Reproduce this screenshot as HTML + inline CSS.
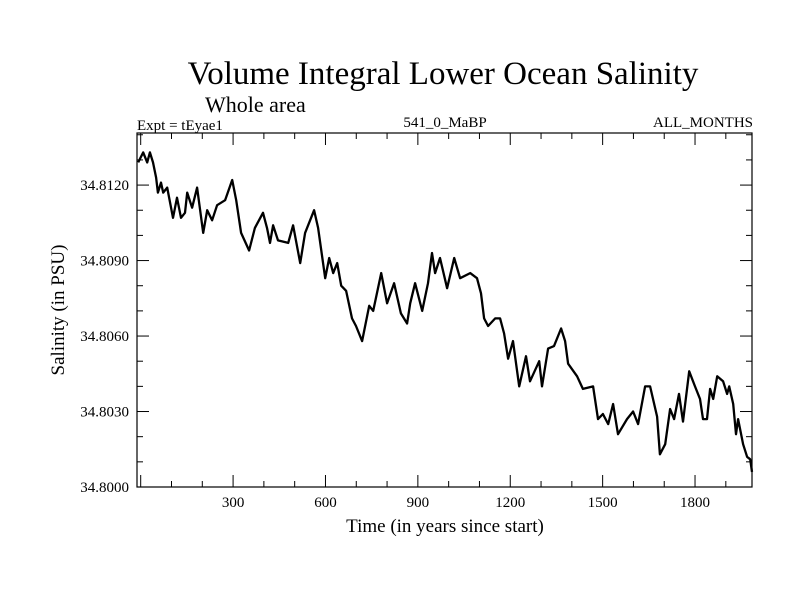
<!DOCTYPE html>
<html><head><meta charset="utf-8"><style>
body{margin:0;background:#fff}
svg text{font-family:"Liberation Serif",serif;fill:#000}
</style></head><body>
<svg width="800" height="600">
<text x="443" y="84" font-size="33" text-anchor="middle">Volume Integral Lower Ocean Salinity</text>
<text x="205" y="112" font-size="22">Whole area</text>
<text x="137" y="130" font-size="15">Expt = tEyae1</text>
<text x="445" y="127" font-size="15" text-anchor="middle">541_0_MaBP</text>
<text x="753" y="127" font-size="15" text-anchor="end">ALL_MONTHS</text>
<text x="445" y="532" font-size="19" text-anchor="middle">Time (in years since start)</text>
<text transform="translate(64,310) rotate(-90)" font-size="19" text-anchor="middle">Salinity (in PSU)</text>
<g id="ticks"></g>
<path id="line" fill="none" stroke="#000" stroke-width="2.3" stroke-linejoin="round"/>
<rect x="137" y="133" width="615" height="354" fill="none" stroke="#000" stroke-width="1.2"/>
</svg>
<script>
const years=[-8,8,21,30,40,50,56,66,73,86,105,118,131,144,151,167,183,203,216,232,248,274,297,310,326,352,371,397,410,420,430,446,479,495,518,534,563,576,599,612,625,638,651,667,686,699,719,742,755,781,800,823,845,865,875,891,914,933,946,956,972,995,1018,1037,1070,1092,1105,1115,1128,1151,1167,1180,1193,1209,1229,1251,1264,1294,1303,1323,1342,1365,1378,1388,1417,1436,1469,1485,1501,1518,1534,1550,1579,1599,1615,1638,1654,1677,1686,1703,1719,1732,1748,1761,1781,1800,1816,1826,1839,1849,1859,1872,1891,1904,1911,1924,1933,1940,1956,1969,1979,1985];
const salinity=[34.8129,34.8133,34.8129,34.8133,34.8129,34.8123,34.8117,34.8121,34.8117,34.8119,34.8107,34.8115,34.8107,34.8109,34.8117,34.8111,34.8119,34.8101,34.8110,34.8106,34.8112,34.8114,34.8122,34.8114,34.8101,34.8094,34.8103,34.8109,34.8103,34.8097,34.8104,34.8098,34.8097,34.8104,34.8089,34.8101,34.8110,34.8103,34.8083,34.8091,34.8085,34.8089,34.8080,34.8078,34.8067,34.8064,34.8058,34.8072,34.8070,34.8085,34.8073,34.8081,34.8069,34.8065,34.8073,34.8081,34.8070,34.8081,34.8093,34.8085,34.8091,34.8079,34.8091,34.8083,34.8085,34.8083,34.8077,34.8067,34.8064,34.8067,34.8067,34.8061,34.8051,34.8058,34.8040,34.8052,34.8042,34.8050,34.8040,34.8055,34.8056,34.8063,34.8058,34.8049,34.8044,34.8039,34.8040,34.8027,34.8029,34.8025,34.8033,34.8021,34.8027,34.8030,34.8025,34.8040,34.8040,34.8028,34.8013,34.8017,34.8031,34.8027,34.8037,34.8026,34.8046,34.8040,34.8035,34.8027,34.8027,34.8039,34.8035,34.8044,34.8042,34.8037,34.8040,34.8033,34.8021,34.8027,34.8017,34.8012,34.8011,34.8006];
const xTickLabels=["300","600","900","1200","1500","1800"];
const yTickLabels=["34.8000","34.8030","34.8060","34.8090","34.8120"];
const X0=137,X1=752,Y0=487,Y1=133,XMIN=-12,XMAX=1985,YMIN=34.8,YMAX=34.81407;
const sx=v=>X0+(v-XMIN)/(XMAX-XMIN)*(X1-X0);
const sy=v=>Y0-(v-YMIN)/(YMAX-YMIN)*(Y0-Y1);
const NS="http://www.w3.org/2000/svg";
const g=document.getElementById('ticks');
function ln(x1,y1,x2,y2){const l=document.createElementNS(NS,'line');l.setAttribute('x1',x1);l.setAttribute('y1',y1);l.setAttribute('x2',x2);l.setAttribute('y2',y2);l.setAttribute('stroke','#000');


g.appendChild(l);}
function tx(x,y,s,a,n){const t=document.createElementNS(NS,'text');t.setAttribute('x',x);t.setAttribute('y',y);t.setAttribute('font-size','15');t.setAttribute('text-anchor',a);t.textContent=s;


g.appendChild(t);}
for(let yr=0;yr<=XMAX;yr+=100){const x=sx(yr),L=yr%300===0?12:6;ln(x,Y0,x,Y0-L);ln(x,Y1,x,Y1+L);}
xTickLabels.forEach(s=>tx(sx(+s),507,s,'middle','x-tick-label'));
for(let k=0;k<=14;k++){const v=YMIN+k*0.001,y=sy(v),L=k%3===0?12:6;ln(X0,y,X0+L,y);ln(X1,y,X1-L,y);}
yTickLabels.forEach(s=>tx(129,sy(+s)+5,s,'end','y-tick-label'));
document.getElementById('line').setAttribute('d',years.map((v,i)=>(i?'L':'M')+sx(v).toFixed(1)+' '+sy(salinity[i]).toFixed(1)).join(' '));
</script>
</body></html>
